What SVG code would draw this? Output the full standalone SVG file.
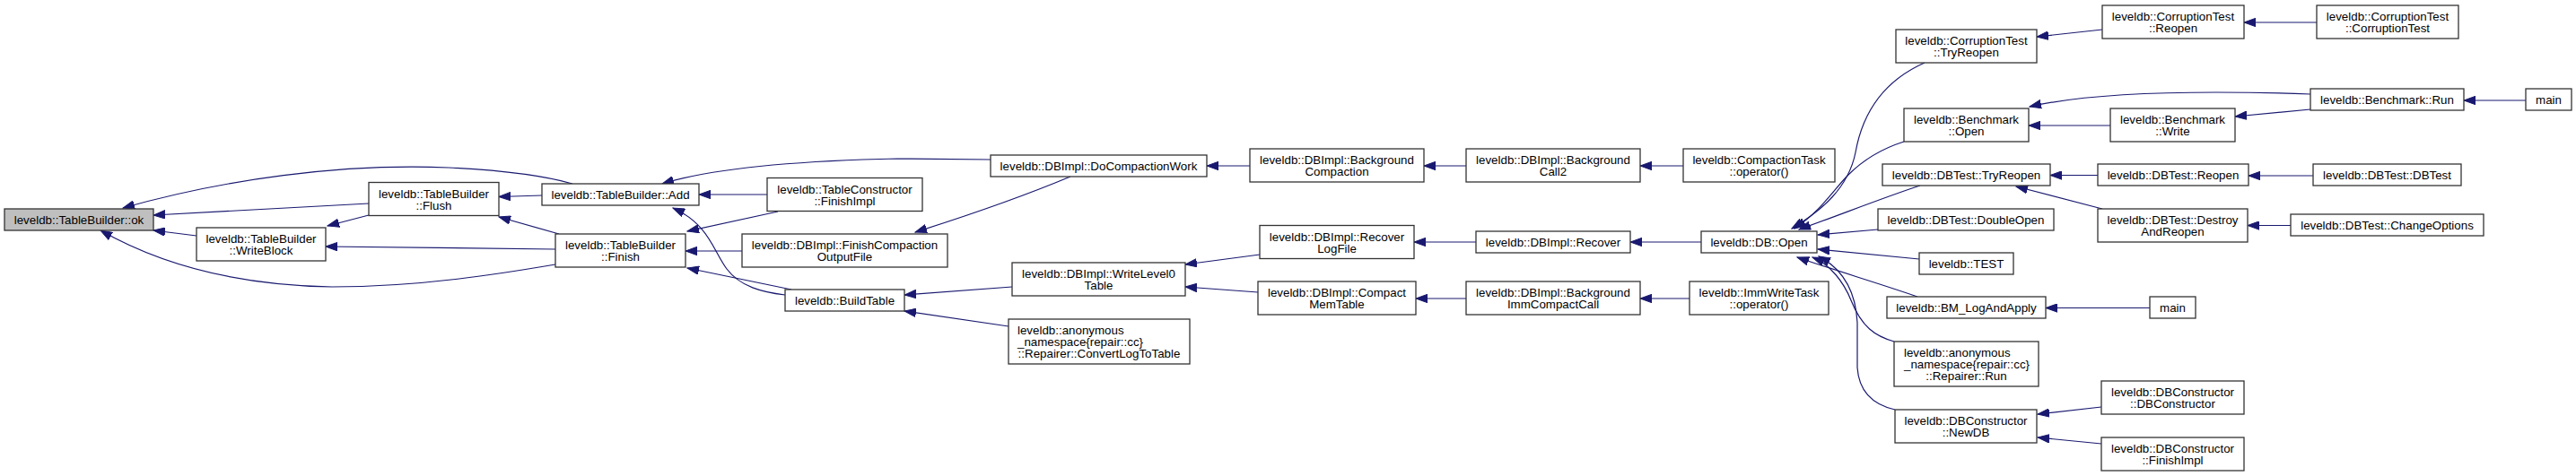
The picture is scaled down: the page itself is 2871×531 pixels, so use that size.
<svg xmlns="http://www.w3.org/2000/svg" width="2871" height="531" viewBox="0 0 2871 531">
<style>
.n rect{fill:#ffffff;stroke:#333333;stroke-width:1.3}
.r rect{fill:#bfbfbf}
text{font-family:"Liberation Sans",Arial,Helvetica,sans-serif;font-size:13.33px;fill:#000000;text-anchor:middle}
text.l{text-anchor:start}
#edges path{fill:none;stroke:#191970;stroke-width:1.2;marker-start:url(#ah)}
</style>
<defs>
<marker id="ah" markerUnits="userSpaceOnUse" markerWidth="14" markerHeight="10" viewBox="0 0 14 10" refX="13" refY="5" orient="auto-start-reverse">
<path d="M0,0.3 L13,5 L0,9.7 z" fill="#191970" stroke="#191970" stroke-width="1"/>
</marker>
</defs>
<rect width="2871" height="531" fill="#ffffff"/>
<g id="edges">
<path d="M137,232 C250,200 380,182 500,187 C560,190 610,197 638,205"/>
<path d="M171,240 L411,227"/>
<path d="M171,257 L219,263"/>
<path d="M112,257 C170,290 250,318 370,320 C470,320 560,305 619,295"/>
<path d="M365,252 L411,240"/>
<path d="M363,275 L619,278"/>
<path d="M556,219.5 L604,218"/>
<path d="M556,242 L623,261"/>
<path d="M779,217 L855,217"/>
<path d="M738,205 C780,192 860,180 1000,177 L1104,178"/>
<path d="M750,232 C790,250 795,280 810,300 C825,320 850,326 875,329"/>
<path d="M766,258 L867,236"/>
<path d="M764,280 L827,280"/>
<path d="M766,299 L882,323"/>
<path d="M1020,259 C1080,240 1150,215 1193,197"/>
<path d="M1345,185 L1393,185"/>
<path d="M1587,185 L1634,185"/>
<path d="M1828,185 L1876,185"/>
<path d="M1008,329 L1128,320"/>
<path d="M1008,347 L1124,364"/>
<path d="M1321,295 L1404,284"/>
<path d="M1321,320 L1402,326"/>
<path d="M1576,270 L1645,270"/>
<path d="M1817,270 L1896,270"/>
<path d="M1578,333 L1634,333"/>
<path d="M1828,333 L1883,333"/>
<path d="M1997,255 C2030,235 2060,210 2068,170 C2076,125 2100,90 2145,70"/>
<path d="M2000,255 C2030,235 2045,210 2060,195 C2080,175 2100,165 2122,158"/>
<path d="M2005,256 C2050,240 2100,220 2140,207"/>
<path d="M2026,262 L2093,256"/>
<path d="M2026,278 L2139,289"/>
<path d="M2003,287 C2040,300 2100,318 2137,331"/>
<path d="M2020,287 C2040,295 2055,315 2063,335 C2075,365 2090,375 2111,381"/>
<path d="M2027,286 C2050,298 2068,320 2070,360 L2070,410 C2072,440 2090,452 2112,457"/>
<path d="M2270,41 L2343,33"/>
<path d="M2501,25 L2582,25"/>
<path d="M2262,119 C2310,108 2380,103 2470,103 C2520,103 2550,104 2575,105"/>
<path d="M2261,140 L2352,140"/>
<path d="M2491,130 L2575,122"/>
<path d="M2746,112 L2815,112"/>
<path d="M2285,195.5 L2338,195.5"/>
<path d="M2247,208 L2343,233"/>
<path d="M2506,196 L2578,196"/>
<path d="M2505,251.5 L2553,251.5"/>
<path d="M2280,343.5 L2396,343.5"/>
<path d="M2271,462 L2342,454"/>
<path d="M2271,488 L2342,495"/>
</g>
<g id="n0" class="n r"><rect x="5" y="233" width="166" height="24"/><text x="88" y="250">leveldb::TableBuilder::ok</text></g>
<g id="n1" class="n"><rect x="219" y="254" width="144" height="37"/><text x="291" y="271">leveldb::TableBuilder</text><text x="291" y="284">::WriteBlock</text></g>
<g id="n2" class="n"><rect x="411" y="203.5" width="145" height="37"/><text x="483.5" y="220.5">leveldb::TableBuilder</text><text x="483.5" y="233.5">::Flush</text></g>
<g id="n3" class="n"><rect x="604" y="205" width="175" height="24"/><text x="691.5" y="222">leveldb::TableBuilder::Add</text></g>
<g id="n4" class="n"><rect x="619" y="261" width="145" height="37"/><text x="691.5" y="278">leveldb::TableBuilder</text><text x="691.5" y="291">::Finish</text></g>
<g id="n5" class="n"><rect x="855" y="198.5" width="173" height="37"/><text x="941.5" y="215.5">leveldb::TableConstructor</text><text x="941.5" y="228.5">::FinishImpl</text></g>
<g id="n6" class="n"><rect x="827" y="261" width="229" height="37"/><text x="941.5" y="278">leveldb::DBImpl::FinishCompaction</text><text x="941.5" y="291">OutputFile</text></g>
<g id="n7" class="n"><rect x="875" y="323" width="133" height="24"/><text x="941.5" y="340">leveldb::BuildTable</text></g>
<g id="n8" class="n"><rect x="1104" y="173" width="241" height="24"/><text x="1224.5" y="190">leveldb::DBImpl::DoCompactionWork</text></g>
<g id="n9" class="n"><rect x="1128" y="293" width="193" height="37"/><text x="1224.5" y="310">leveldb::DBImpl::WriteLevel0</text><text x="1224.5" y="323">Table</text></g>
<g id="n10" class="n"><rect x="1124" y="356" width="202" height="50"/><text class="l" x="1134" y="373">leveldb::anonymous</text><text class="l" x="1134" y="386">_namespace{repair::cc}</text><text x="1225" y="399">::Repairer::ConvertLogToTable</text></g>
<g id="n11" class="n"><rect x="1393" y="166" width="194" height="37"/><text x="1490" y="183">leveldb::DBImpl::Background</text><text x="1490" y="196">Compaction</text></g>
<g id="n12" class="n"><rect x="1404" y="251.5" width="172" height="37"/><text x="1490" y="268.5">leveldb::DBImpl::Recover</text><text x="1490" y="281.5">LogFile</text></g>
<g id="n13" class="n"><rect x="1402" y="314" width="176" height="37"/><text x="1490" y="331">leveldb::DBImpl::Compact</text><text x="1490" y="344">MemTable</text></g>
<g id="n14" class="n"><rect x="1634" y="166" width="194" height="37"/><text x="1731" y="183">leveldb::DBImpl::Background</text><text x="1731" y="196">Call2</text></g>
<g id="n15" class="n"><rect x="1645" y="258" width="172" height="24"/><text x="1731" y="275">leveldb::DBImpl::Recover</text></g>
<g id="n16" class="n"><rect x="1634" y="314" width="194" height="37"/><text x="1731" y="331">leveldb::DBImpl::Background</text><text x="1731" y="344">ImmCompactCall</text></g>
<g id="n17" class="n"><rect x="1876" y="166" width="169" height="37"/><text x="1960.5" y="183">leveldb::CompactionTask</text><text x="1960.5" y="196">::operator()</text></g>
<g id="n18" class="n"><rect x="1896" y="258" width="129" height="24"/><text x="1960.5" y="275">leveldb::DB::Open</text></g>
<g id="n19" class="n"><rect x="1883" y="314" width="155" height="37"/><text x="1960.5" y="331">leveldb::ImmWriteTask</text><text x="1960.5" y="344">::operator()</text></g>
<g id="n20" class="n"><rect x="2113" y="33" width="157" height="37"/><text x="2191.5" y="50">leveldb::CorruptionTest</text><text x="2191.5" y="63">::TryReopen</text></g>
<g id="n21" class="n"><rect x="2122" y="121" width="139" height="37"/><text x="2191.5" y="138">leveldb::Benchmark</text><text x="2191.5" y="151">::Open</text></g>
<g id="n22" class="n"><rect x="2098" y="183" width="187" height="24"/><text x="2191.5" y="200">leveldb::DBTest::TryReopen</text></g>
<g id="n23" class="n"><rect x="2093" y="233" width="196" height="24"/><text x="2191" y="250">leveldb::DBTest::DoubleOpen</text></g>
<g id="n24" class="n"><rect x="2139" y="282" width="105" height="24"/><text x="2191.5" y="299">leveldb::TEST</text></g>
<g id="n25" class="n"><rect x="2103" y="331" width="177" height="24"/><text x="2191.5" y="348">leveldb::BM_LogAndApply</text></g>
<g id="n26" class="n"><rect x="2111" y="381" width="161" height="50"/><text class="l" x="2122" y="398">leveldb::anonymous</text><text class="l" x="2122" y="411">_namespace{repair::cc}</text><text x="2191.5" y="424">::Repairer::Run</text></g>
<g id="n27" class="n"><rect x="2112" y="457" width="158" height="37"/><text x="2191" y="474">leveldb::DBConstructor</text><text x="2191" y="487">::NewDB</text></g>
<g id="n28" class="n"><rect x="2343" y="6" width="158" height="37"/><text x="2422" y="23">leveldb::CorruptionTest</text><text x="2422" y="36">::Reopen</text></g>
<g id="n29" class="n"><rect x="2352" y="121" width="139" height="37"/><text x="2421.5" y="138">leveldb::Benchmark</text><text x="2421.5" y="151">::Write</text></g>
<g id="n30" class="n"><rect x="2338" y="183" width="168" height="24"/><text x="2422" y="200">leveldb::DBTest::Reopen</text></g>
<g id="n31" class="n"><rect x="2338" y="233" width="167" height="37"/><text x="2421.5" y="250">leveldb::DBTest::Destroy</text><text x="2421.5" y="263">AndReopen</text></g>
<g id="n32" class="n"><rect x="2396" y="331" width="51" height="24"/><text x="2421.5" y="348">main</text></g>
<g id="n33" class="n"><rect x="2342" y="425" width="159" height="37"/><text x="2421.5" y="442">leveldb::DBConstructor</text><text x="2421.5" y="455">::DBConstructor</text></g>
<g id="n34" class="n"><rect x="2342" y="488" width="159" height="37"/><text x="2421.5" y="505">leveldb::DBConstructor</text><text x="2421.5" y="518">::FinishImpl</text></g>
<g id="n35" class="n"><rect x="2582" y="6" width="158" height="37"/><text x="2661" y="23">leveldb::CorruptionTest</text><text x="2661" y="36">::CorruptionTest</text></g>
<g id="n36" class="n"><rect x="2575" y="99" width="171" height="24"/><text x="2660.5" y="116">leveldb::Benchmark::Run</text></g>
<g id="n37" class="n"><rect x="2578" y="183" width="165" height="24"/><text x="2660.5" y="200">leveldb::DBTest::DBTest</text></g>
<g id="n38" class="n"><rect x="2553" y="239" width="215" height="24"/><text x="2660.5" y="256">leveldb::DBTest::ChangeOptions</text></g>
<g id="n39" class="n"><rect x="2815" y="99" width="51" height="24"/><text x="2840.5" y="116">main</text></g>
</svg>
